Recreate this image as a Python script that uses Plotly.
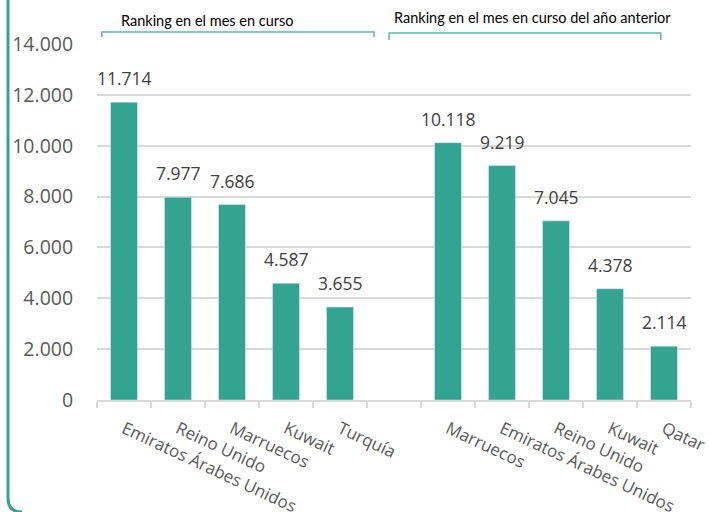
import plotly.graph_objects as go

categories = ["Emiratos Árabes Unidos", "Reino Unido", "Marruecos", "Kuwait", "Turquía", "",
              "Marruecos", "Emiratos Árabes Unidos", "Reino Unido", "Kuwait", "Qatar"]
values = [11714, 7977, 7686, 4587, 3655, None, 10118, 9219, 7045, 4378, 2114]
group_labels = ["Ranking en el mes en curso", "Ranking en el mes en curso del año anterior"]
y_ticks = [0, 2000, 4000, 6000, 8000, 10000, 12000, 14000]

BAR = "#33A392"
LINE = "#5CB8AB"
W, H = 709, 512
ML, MR, MT, MB = 97, 18, 44, 112
PW, PH = W - ML - MR, H - MT - MB

def px(x):
    return (x - ML) / PW

def py(y):
    return (H - MB - y) / PH

xs = list(range(len(categories)))
fig = go.Figure()
fig.add_trace(go.Bar(x=xs, y=values, marker_color=BAR, width=0.5, hoverinfo="skip"))

def fmt(v):
    return f"{v:,}".replace(",", ".")

annotations = []
for x, v in zip(xs, values):
    if v is None:
        continue
    annotations.append(dict(x=x, y=v, text=fmt(v), showarrow=False, yanchor="bottom",
                            yshift=10, font=dict(family="Open Sans", size=17.5, color="#404040")))

annotations.append(dict(x=1.54, y=py(20), xref="x", yref="paper", text=group_labels[0],
                        showarrow=False, yanchor="middle", xanchor="center",
                        font=dict(family="Lato", size=14.5, color="#000000")))
annotations.append(dict(x=7.56, y=py(17), xref="x", yref="paper", text=group_labels[1],
                        showarrow=False, yanchor="middle", xanchor="center",
                        font=dict(family="Lato", size=14.5, color="#000000")))

shapes = []
for x0, x1, ytop, ybot in [(-0.41, 4.63, 32, 37), (4.91, 9.94, 33, 40)]:
    shapes.append(dict(type="path", xref="x", yref="paper",
                       path=f"M {x0},{py(ybot)} L {x0},{py(ytop)} L {x1},{py(ytop)} L {x1},{py(ybot)}",
                       line=dict(color=LINE, width=1.5)))
shapes.append(dict(type="path", xref="paper", yref="paper",
                   path=f"M {px(8)},{py(-5)} L {px(8)},{py(498)} Q {px(8)},{py(512)} {px(22)},{py(512)}",
                   line=dict(color=BAR, width=3)))

fig.update_layout(
    width=W, height=H,
    margin=dict(l=ML, r=MR, t=MT, b=MB, autoexpand=False),
    paper_bgcolor="white", plot_bgcolor="white",
    separators=",.",
    showlegend=False,
    annotations=annotations,
    shapes=shapes,
)
fig.update_xaxes(
    automargin=False,
    range=[-0.5, 10.5], tickmode="array", tickvals=xs, ticktext=categories,
    tickangle=25, ticks="outside", ticklen=11, tickcolor="rgba(0,0,0,0)", showgrid=False,
    ticklabeloverflow="allow",
    showline=True, linecolor="#D9D9D9", linewidth=1.5,
    tickfont=dict(family="Open Sans", size=17, color="#595959"),
    minor=dict(tickmode="linear", tick0=-0.5, dtick=1, ticks="outside", ticklen=6,
               tickcolor="#D9D9D9", tickwidth=1.5, showgrid=False),
)
fig.update_yaxes(
    automargin=False,
    range=[0, 14000], tickmode="array", tickvals=y_ticks, tickformat=",d",
    showgrid=True, gridcolor="#D9D9D9", gridwidth=1.5, zeroline=False,
    ticks="outside", ticklen=19, tickcolor="rgba(0,0,0,0)",
    tickfont=dict(family="Open Sans", size=19.5, color="#595959"),
)
fig.write_html("out.html", config={"displayModeBar": False},
               post_script="document.body.style.margin='0';document.body.style.overflow='hidden';")
